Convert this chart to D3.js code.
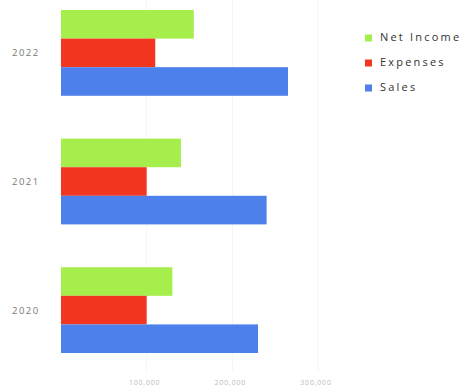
<!DOCTYPE html>
<html>
<head>
<meta charset="utf-8">
<style>
  html, body { margin: 0; padding: 0; background: #fff; }
  svg { display: block; }
  text { font-family: "Open Sans", sans-serif; }
</style>
</head>
<body>
<svg width="466" height="392"></svg>
<script src="https://d3js.org/d3.v7.min.js"></script>
<script>
const years = ["2022", "2021", "2020"];
const series = ["Net Income", "Expenses", "Sales"];
const netIncome = [155000, 140000, 130000];
const expenses = [110000, 100000, 100000];
const sales = [265000, 240000, 230000];
const ticks = [100000, 200000, 300000];
const tickLabels = ["100,000", "200,000", "300,000"];

const values = { "Net Income": netIncome, "Expenses": expenses, "Sales": sales };
const colors = { "Net Income": "#a6ee4c", "Expenses": "#f3361f", "Sales": "#4d80ea" };

const svg = d3.select("svg");

const x = d3.scaleLinear().domain([0, 300000]).range([61, 318]);
const y = d3.scaleBand().domain(years).range([10, 353]).paddingInner(0.333).paddingOuter(0);
const inner = d3.scaleBand().domain(series).range([0, y.bandwidth()]);

// faint grid
svg.append("g")
  .selectAll("line")
  .data(ticks)
  .join("line")
  .attr("x1", d => x(d)).attr("x2", d => x(d))
  .attr("y1", 0).attr("y2", 372)
  .attr("stroke", "#f5f5f5");

// bars
const groups = svg.append("g")
  .selectAll("g")
  .data(years)
  .join("g")
  .attr("transform", d => `translate(0,${y(d)})`);

groups.selectAll("rect")
  .data((yr, i) => series.map(s => ({ s, v: values[s][i] })))
  .join("rect")
  .attr("x", x(0))
  .attr("y", d => inner(d.s))
  .attr("width", d => x(d.v) - x(0))
  .attr("height", inner.bandwidth())
  .attr("fill", d => colors[d.s]);

// year labels
svg.append("g")
  .selectAll("text")
  .data(years)
  .join("text")
  .attr("x", 12)
  .attr("y", d => y(d) + y.bandwidth() / 2 + 1)
  .attr("dominant-baseline", "middle")
  .attr("font-size", 9.5)
  .attr("letter-spacing", 1.5)
  .attr("fill", "#777")
  .text(d => d);

// x tick labels
svg.append("g")
  .selectAll("text")
  .data(ticks)
  .join("text")
  .attr("x", d => x(d) - 2)
  .attr("y", 385)
  .attr("text-anchor", "middle")
  .attr("font-size", 7)
  .attr("letter-spacing", 0.8)
  .attr("fill", "#bbb")
  .text((d, i) => tickLabels[i]);

// legend
const legend = svg.append("g")
  .selectAll("g")
  .data(series)
  .join("g")
  .attr("transform", (d, i) => `translate(365,${38 + i * 25})`);

legend.append("rect")
  .attr("x", 0).attr("y", -3.5)
  .attr("width", 7).attr("height", 7)
  .attr("fill", d => colors[d]);

legend.append("text")
  .attr("x", 15)
  .attr("y", 0)
  .attr("dominant-baseline", "middle")
  .attr("font-size", 11)
  .attr("letter-spacing", 2.2)
  .attr("fill", "#333")
  .text(d => d);
</script>
</body>
</html>
